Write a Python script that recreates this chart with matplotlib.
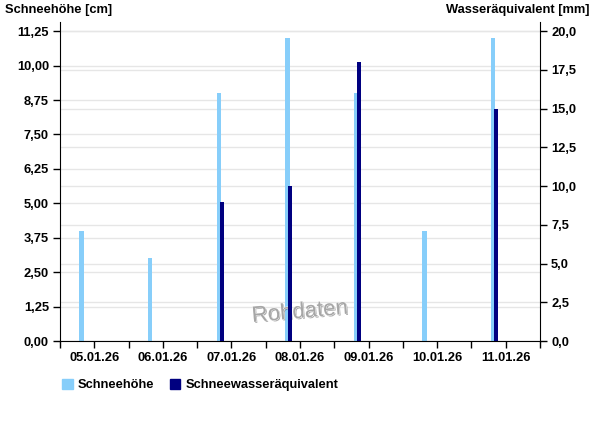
import matplotlib
matplotlib.use("Agg")
import matplotlib.pyplot as plt
import matplotlib.transforms as mtransforms
import matplotlib.patheffects as pe
from matplotlib.patches import Patch

plt.rcParams['font.family'] = ['Liberation Sans', 'DejaVu Sans']

dates = ["05.01.26", "06.01.26", "07.01.26", "08.01.26", "09.01.26", "10.01.26", "11.01.26"]
schneehoehe = [4, 3, 9, 11, 9, 4, 11]          # cm
wasseraequivalent = [0, 0, 9, 10, 18, 0, 15]   # mm

left_ticks = [0, 1.25, 2.5, 3.75, 5.0, 6.25, 7.5, 8.75, 10.0, 11.25]
right_ticks = [0, 2.5, 5.0, 7.5, 10.0, 12.5, 15.0, 17.5, 20.0]

c_sh = "#87cefa"
c_we = "#000080"
grid_c = "#e6e6e6"

fig = plt.figure(figsize=(6, 4.26), dpi=100)
ax = fig.add_axes([0.1, 0.1995, 0.8, 0.7485])
ax2 = ax.twinx()

ax.set_xlim(0, 7)
ax.set_ylim(0, 11.25 * 319 / 310)
ax2.set_ylim(0, 20 * 319 / 310)

days = list(range(len(dates)))
ax.bar([d + 0.315 for d in days], schneehoehe, width=0.065, color=c_sh, zorder=2)
ax2.bar([d + 0.36 for d in days], wasseraequivalent, width=0.06, color=c_we, zorder=2)

# grids
for v in left_ticks:
    ax.axhline(v, color=grid_c, lw=1, zorder=0)
trans = mtransforms.blended_transform_factory(ax.transAxes, ax2.transData)
for v in right_ticks:
    ax.plot([0, 1], [v, v], transform=trans, color=grid_c, lw=1, zorder=0)

fs = 9.3
ax.set_yticks(left_ticks)
ax.set_yticklabels([f"{v:.2f}".replace('.', ',') for v in left_ticks], fontsize=fs, fontweight='bold')
ax2.set_yticks(right_ticks)
ax2.set_yticklabels([f"{v:.1f}".replace('.', ',') for v in right_ticks], fontsize=fs, fontweight='bold')

ax.set_xticks([i * 0.5 for i in range(15)])
ax.set_xticklabels(["" if i % 2 == 0 else dates[i // 2] for i in range(15)],
                   fontsize=fs, fontweight='bold')

for a in (ax, ax2):
    a.tick_params(axis='both', length=5, width=1, color='black', pad=3)
    a.spines['top'].set_visible(False)
    for s in a.spines.values():
        s.set_color('black')
ax.spines['right'].set_visible(False)
ax2.spines['left'].set_visible(False)
ax2.spines['bottom'].set_visible(False)

fig.text(5 / 600, 1 - 10 / 426, "Schneehöhe [cm]", fontsize=fs, fontweight='bold', ha='left', va='center')
fig.text(590 / 600, 1 - 10 / 426, "Wasseräquivalent [mm]", fontsize=fs, fontweight='bold', ha='right', va='center')

ax.text(0.5, 0.09, "Rohdaten", transform=ax.transAxes, fontsize=16, color="#a6a6a6",
        rotation=5, ha='center', va='center', zorder=5, fontweight='normal',
        path_effects=[pe.withSimplePatchShadow(offset=(0.8, -0.8), shadow_rgbFace='#555555', alpha=0.5),
                      pe.withStroke(linewidth=0.6, foreground='#ffffff')])

handles = [Patch(facecolor=c_sh, edgecolor=c_sh), Patch(facecolor=c_we, edgecolor=c_we)]
fig.legend(handles, ["Schneehöhe", "Schneewasseräquivalent"], loc='center left',
           bbox_to_anchor=(0.095, 1 - 385 / 426), ncol=2, frameon=False,
           prop={'size': fs, 'weight': 'bold'}, handlelength=0.8, handleheight=0.8,
           handletextpad=0.4, columnspacing=1.2, borderaxespad=0)

fig.savefig("out.png", dpi=100)
